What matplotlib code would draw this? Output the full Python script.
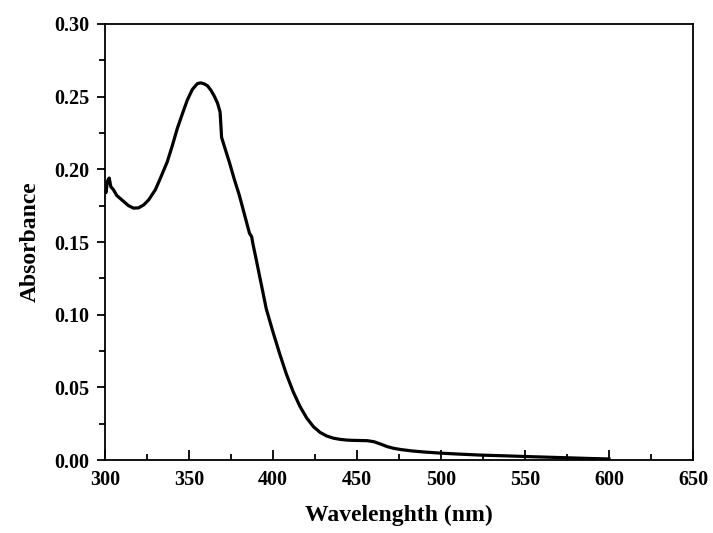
import matplotlib
matplotlib.use("Agg")
import matplotlib.pyplot as plt
from matplotlib.ticker import MultipleLocator, FormatStrFormatter

wavelength = [300, 300.6, 301.5, 302.5, 303.5, 305, 307, 309, 311, 314, 317, 320,
              323, 326, 330, 333, 337, 340, 343, 346, 349, 352, 355, 357, 359, 361,
              363, 365, 367, 368.5, 369.0, 369.4, 371, 374, 377, 380, 383, 386,
              386.8, 387.3, 388, 390, 393, 396, 400, 404, 408, 412, 416, 420,
              424, 428, 432, 436, 440, 444, 448, 452, 456, 460, 464, 468, 472, 476,
              483, 490, 500, 510, 523, 540, 553, 573, 590, 600]
absorbance = [0.186, 0.184, 0.192, 0.194, 0.188, 0.186, 0.182, 0.180, 0.178, 0.175,
              0.1733, 0.1735, 0.1755, 0.179, 0.186, 0.194, 0.205, 0.216, 0.228,
              0.238, 0.2477, 0.255, 0.259, 0.2595, 0.2588, 0.2575, 0.2545, 0.2505,
              0.2455, 0.2395, 0.230, 0.222, 0.216, 0.205, 0.193, 0.182, 0.169,
              0.156, 0.1545, 0.1537, 0.149, 0.138, 0.121, 0.104, 0.088, 0.073,
              0.059, 0.047, 0.037, 0.029, 0.023, 0.019, 0.0165, 0.015,
              0.0142, 0.0137, 0.0135, 0.0134, 0.0133, 0.0126, 0.011, 0.0092,
              0.0080, 0.0072, 0.0062, 0.0055, 0.0047, 0.0041, 0.0034, 0.0028,
              0.0023, 0.0016, 0.0010, 0.0007]

xticks = [300, 350, 400, 450, 500, 550, 600, 650]
yticks = [0.00, 0.05, 0.10, 0.15, 0.20, 0.25, 0.30]

plt.rcParams['font.family'] = ['Liberation Serif', 'DejaVu Serif']
plt.rcParams['font.weight'] = 'bold'

fig = plt.figure(figsize=(7.13, 5.33), dpi=100)
ax = fig.add_axes([105/713, 1-460/533, (693-105)/713, (460-24)/533])

ax.plot(wavelength, absorbance, color='black', linewidth=2.3,
        solid_joinstyle='round')

ax.set_xlim(300, 650)
ax.set_ylim(0, 0.30)
ax.set_xticks(xticks)
ax.set_yticks(yticks)
ax.xaxis.set_minor_locator(MultipleLocator(25))
ax.yaxis.set_minor_locator(MultipleLocator(0.025))
ax.yaxis.set_major_formatter(FormatStrFormatter('%.2f'))

for s in ax.spines.values():
    s.set_linewidth(1.3)

ax.tick_params(axis='x', which='major', direction='in', length=7, width=1.3,
               labelsize=14.5, pad=7)
ax.tick_params(axis='x', which='minor', direction='in', length=4, width=1.3)
ax.tick_params(axis='y', which='major', direction='out', length=6, width=1.3,
               labelsize=14.5, pad=5)
ax.tick_params(axis='y', which='minor', direction='out', length=4, width=1.3)
for lab in ax.get_xticklabels() + ax.get_yticklabels():
    lab.set_fontweight('bold')

ax.set_xlabel('Wavelenghth (nm)', fontsize=17, fontweight='bold', labelpad=11)
ax.set_ylabel('Absorbance', fontsize=17, fontweight='bold', labelpad=10)

fig.savefig('out.png', dpi=100)
